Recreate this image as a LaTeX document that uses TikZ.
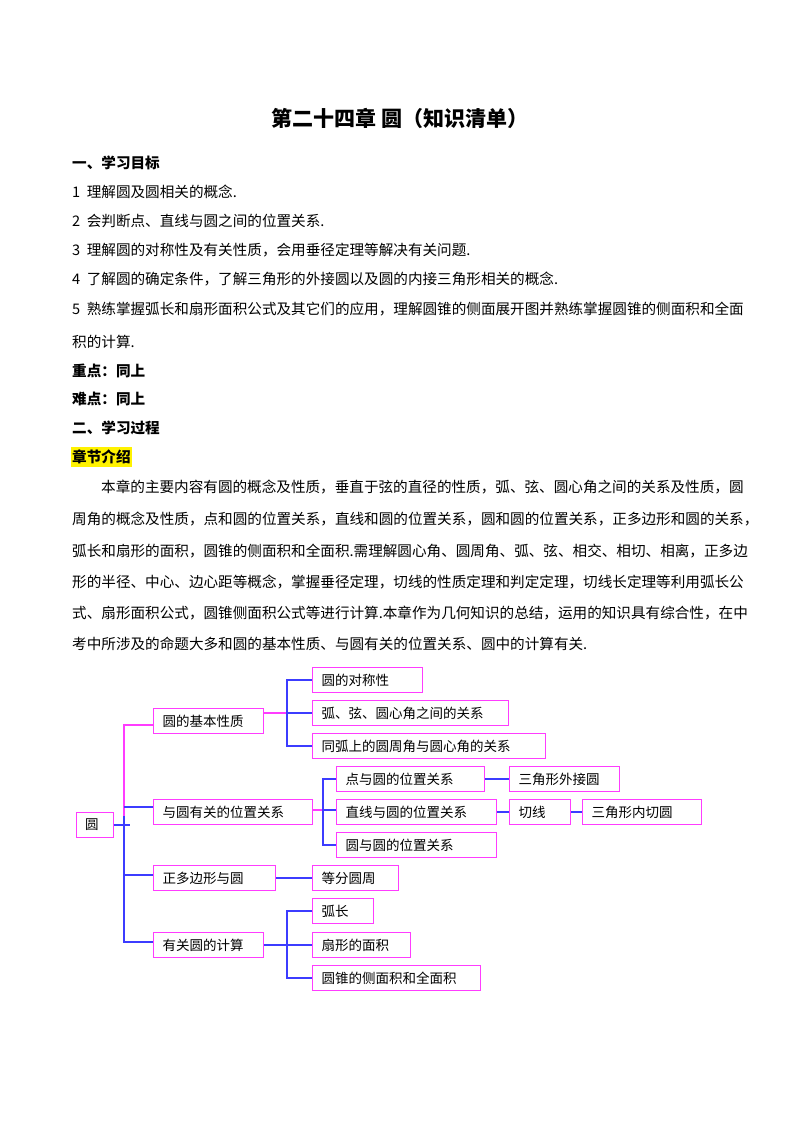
\documentclass[tikz,border=0pt]{standalone}
\usepackage{fontspec}
\newfontfamily\cjk{Noto Sans CJK SC}
\begin{document}
\begin{tikzpicture}[x=1pt,y=-1pt,
  txt/.style={anchor=west,inner sep=0,font=\cjk\fontsize{14.6}{16}\selectfont},
  hd/.style={anchor=west,inner sep=0,font=\cjk\bfseries\fontsize{14.6}{16}\selectfont},
  box/.style={draw={rgb,255:red,255;green,60;blue,255},line width=1.1pt,anchor=west,
    minimum height=24.5,inner xsep=9pt,inner ysep=0pt,align=left,
    font=\cjk\fontsize{13.5}{14}\selectfont},
  bl/.style={draw={rgb,255:red,60;green,60;blue,255},line width=1.1pt},
  pk/.style={draw={rgb,255:red,255;green,60;blue,255},line width=1.1pt}]
\useasboundingbox (0,0) rectangle (800,1132);
\node[font=\cjk\bfseries\fontsize{21}{23}\selectfont,inner sep=0] (title) at (400,118) {第二十四章\ 圆（知识清单）};
\node[hd] (h1) at (72,163) {一、学习目标};
\node[txt] (l1) at (72,192) {1\ \ 理解圆及圆相关的概念.};
\node[txt] (l2) at (72,221) {2\ \ 会判断点、直线与圆之间的位置关系.};
\node[txt] (l3) at (72,250) {3\ \ 理解圆的对称性及有关性质，会用垂径定理等解决有关问题.};
\node[txt] (l4) at (72,279) {4\ \ 了解圆的确定条件，了解三角形的外接圆以及圆的内接三角形相关的概念.};
\node[txt] (l5) at (72,309) {5\ \ 熟练掌握弧长和扇形面积公式及其它们的应用，理解圆锥的侧面展开图并熟练掌握圆锥的侧面积和全面};
\node[txt] (l6) at (72,342) {积的计算.};
\node[hd] (h2) at (72,371) {重点：同上};
\node[hd] (h3) at (72,399) {难点：同上};
\node[hd] (h4) at (72,428) {二、学习过程};
\node[hd,fill=yellow,inner xsep=1pt,inner ysep=3pt] (h5) at (71,457) {章节介绍};
\node[txt] (p1) at (101,487) {本章的主要内容有圆的概念及性质，垂直于弦的直径的性质，弧、弦、圆心角之间的关系及性质，圆};
\node[txt] (p2) at (72,519) {周角的概念及性质，点和圆的位置关系，直线和圆的位置关系，圆和圆的位置关系，正多边形和圆的关系，};
\node[txt] (p3) at (72,551) {弧长和扇形的面积，圆锥的侧面积和全面积.需理解圆心角、圆周角、弧、弦、相交、相切、相离，正多边};
\node[txt] (p4) at (72,582) {形的半径、中心、边心距等概念，掌握垂径定理，切线的性质定理和判定定理，切线长定理等利用弧长公};
\node[txt] (p5) at (72,613) {式、扇形面积公式，圆锥侧面积公式等进行计算.本章作为几何知识的总结，运用的知识具有综合性，在中};
\node[txt] (p6) at (72,644) {考中所涉及的命题大多和圆的基本性质、与圆有关的位置关系、圆中的计算有关.};
% boxes
\node[box,text width=19] (r) at (75.5,825) {圆};
\node[box,text width=92] (a) at (153,721) {圆的基本性质};
\node[box,text width=141] (b) at (153,812) {与圆有关的位置关系};
\node[box,text width=104] (c) at (153,878) {正多边形与圆};
\node[box,text width=92] (d) at (153,945) {有关圆的计算};
\node[box,text width=92] (a1) at (312,680) {圆的对称性};
\node[box,text width=178] (a2) at (312,713) {弧、弦、圆心角之间的关系};
\node[box,text width=215] (a3) at (312,746) {同弧上的圆周角与圆心角的关系};
\node[box,text width=130] (b1) at (336,779) {点与圆的位置关系};
\node[box,text width=142] (b2) at (336,812) {直线与圆的位置关系};
\node[box,text width=142] (b3) at (336,845) {圆与圆的位置关系};
\node[box,text width=92] (b4) at (509,779) {三角形外接圆};
\node[box,text width=43] (b5) at (509,812) {切线};
\node[box,text width=101] (b6) at (582,812) {三角形内切圆};
\node[box,text width=68] (c1) at (312,878) {等分圆周};
\node[box,text width=43] (d1) at (312,911) {弧长};
\node[box,text width=80] (d2) at (312,945) {扇形的面积};
\node[box,text width=150] (d3) at (312,978) {圆锥的侧面积和全面积};
% trunk
\coordinate (t1) at (124,725);
\coordinate (t2) at (124,816);
\coordinate (t3) at (124,942);
\draw[pk] (a.west |- t1) -- (t1) -- (t2);
\draw[bl] (t2) -- (t3) -- (d.west |- t3);
\draw[bl] (r.east) -- (130,825);
\draw[bl] (t1 |- 0,807) -- (b.west |- 0,807);
\draw[bl] (t1 |- 0,875) -- (c.west |- 0,875);
% level 2
\coordinate (ba) at (287,713);
\draw[pk] (a.east |- ba) -- (ba);
\draw[bl] (a1.west) -| (ba) |- (a3.west);
\draw[bl] (ba) -- (a2.west);
\coordinate (bb) at (323,810);
\draw[pk] (b.east |- bb) -- (bb);
\draw[bl] (b1.west) -| (bb) |- (b3.west);
\draw[bl] (bb) -- (bb -| b2.west);
\draw[bl] (b1.east) -- (b4.west);
\draw[bl] (b2.east) -- (b5.west);
\draw[bl] (b5.east) -- (b6.west);
\draw[bl] (c.east) -- (c1.west);
\coordinate (bd) at (287,945);
\draw[bl] (d.east) -- (bd);
\draw[bl] (d1.west) -| (bd) |- (d3.west);
\draw[bl] (bd) -- (d2.west);
\end{tikzpicture}
\end{document}
